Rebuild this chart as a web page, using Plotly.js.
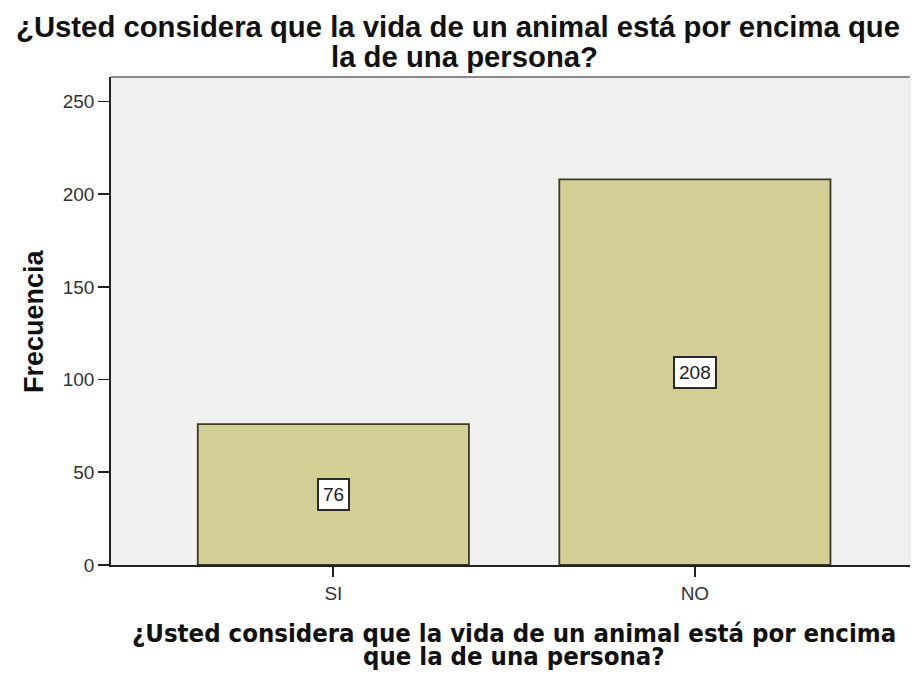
<!DOCTYPE html>
<html>
<head>
<meta charset="utf-8">
<script src="https://cdn.plot.ly/plotly-3.0.1.min.js"></script>
<style>html,body{margin:0;padding:0;background:#fff;}#chart{width:914px;height:673px;}</style>
</head>
<body>
<div id="chart"></div>
<script>
const categories = ['SI', 'NO'];
const frecuencias = [76, 208];
const yTicks = [0, 50, 100, 150, 200, 250];
const titleLines = ['¿Usted considera que la vida de un animal está por encima que', 'la de una persona?'];
const xTitleLines = ['¿Usted considera que la vida de un animal está por encima', 'que la de una persona?'];
const yTitle = 'Frecuencia';

const ARIAL = 'Liberation Sans, Arial, sans-serif';
const COND = 'DejaVu Sans Condensed, DejaVu Sans, sans-serif';

const trace = {
  type: 'bar',
  x: categories,
  y: frecuencias,
  width: 0.75,
  marker: {color: '#D3CE96', line: {color: '#3A3A26', width: 1.8}},
  hoverinfo: 'x+y'
};

const valueLabels = categories.map((c, i) => ({
  x: c, y: frecuencias[i] / 2, xref: 'x', yref: 'y',
  text: String(frecuencias[i]), showarrow: false,
  bgcolor: '#ffffff', bordercolor: '#2a2a2a', borderwidth: 2, borderpad: 4,
  font: {family: ARIAL, size: 19, color: '#222'}
}));

// pixel -> paper helpers for the text placement (plot area 111..910, 77..565)
const px = v => (v - 111) / 799;
const py = v => (565 - v) / 488;

const titleAnns = [
  {text: titleLines[0], x: px(458), y: py(27), font: {family: ARIAL, size: 29.3, weight: 'bold', color: '#111'}},
  {text: titleLines[1], x: px(464), y: py(56), font: {family: ARIAL, size: 29.3, weight: 'bold', color: '#111'}},
  {text: xTitleLines[0], x: px(514), y: py(633), font: {family: COND, size: 25.5, weight: 'bold', color: '#111'}},
  {text: xTitleLines[1], x: px(514), y: py(673), yanchor: 'bottom', font: {family: COND, size: 25.5, weight: 'bold', color: '#111'}},
  {text: yTitle, x: px(34), y: py(321), textangle: -90, font: {family: ARIAL, size: 27, weight: 'bold', color: '#111'}}
].map(a => Object.assign({xref: 'paper', yref: 'paper', xanchor: 'center', yanchor: 'middle', showarrow: false}, a));

const layout = {
  width: 914, height: 673,
  margin: {l: 111, r: 4, t: 77, b: 108},
  paper_bgcolor: '#ffffff',
  plot_bgcolor: '#F0F0F0',
  showlegend: false,
  xaxis: {
    type: 'category', range: [-0.615, 1.595],
    showline: true, linecolor: '#222', linewidth: 1.8,
    ticks: 'outside', ticklen: 10, tickcolor: '#222', tickwidth: 1.8,
    tickfont: {family: ARIAL, size: 19, color: '#333'},
    showgrid: false, zeroline: false, fixedrange: true
  },
  yaxis: {
    range: [0, 263.2], tickvals: yTicks, ticktext: yTicks.map(String),
    showline: true, linecolor: '#222', linewidth: 1.8,
    ticks: 'outside', ticklen: 11, tickcolor: '#222', tickwidth: 1.8,
    tickfont: {family: ARIAL, size: 19, color: '#333'},
    showgrid: false, zeroline: false, fixedrange: true
  },
  shapes: [
    {type: 'line', xref: 'paper', yref: 'paper', x0: 0, x1: 1, y0: 1, y1: 1,
     line: {color: '#8a8a8a', width: 1.8}, layer: 'above'},
    {type: 'line', xref: 'paper', yref: 'paper', x0: 1, x1: 1, y0: 0, y1: 1,
     line: {color: '#e2e2e2', width: 1}, layer: 'above'}
  ],
  annotations: valueLabels.concat(titleAnns)
};

Plotly.newPlot('chart', [trace], layout, {displayModeBar: false, staticPlot: true});
</script>
</body>
</html>
